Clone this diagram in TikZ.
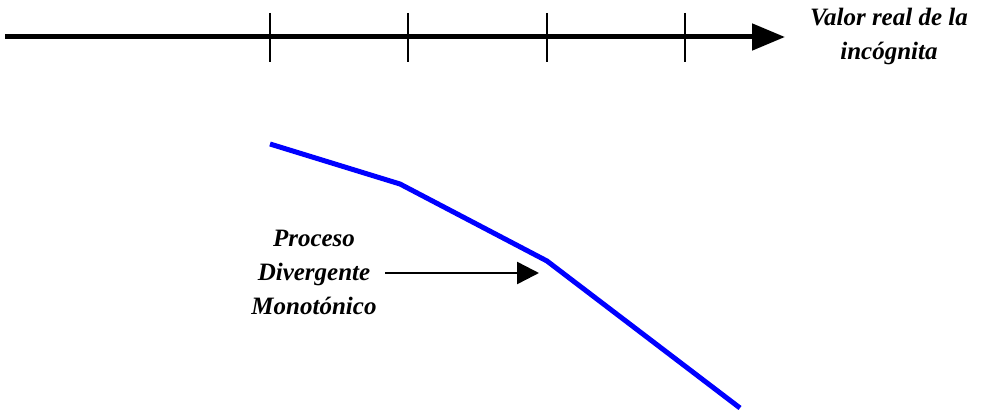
\documentclass[tikz,border=0pt]{standalone}
\usepackage{fontspec}
\setmainfont{Liberation Serif}
\usetikzlibrary{arrows.meta}
\begin{document}
\begin{tikzpicture}[x=1pt,y=-1pt,
  lbl/.style={font=\bfseries\itshape\fontsize{25}{34}\selectfont, align=center, inner sep=0pt},
  axisline/.style={line width=5pt, -{Triangle[length=33pt,width=26pt]}},
  pointer/.style={line width=2.5pt, -{Triangle[length=22pt,width=22pt]}},
  curve/.style={blue, line width=5pt, line join=round}]
\useasboundingbox (0,0) rectangle (981,412);
\coordinate (a0) at (5,37);
\coordinate (a1) at (785,37);
\draw[axisline] (a0) -- (a1);
\foreach \x/\w in {270/1.3, 408/2.6, 547/1.3, 685/1.3}{
  \coordinate (t\x a) at (\x,13);
  \coordinate (t\x b) at (\x,62);
  \draw[line width=\w pt] (t\x a) -- (t\x b);
}
\node[lbl] (val) at (889,36) {Valor real de la\\inc\'ognita};
\coordinate (c0) at (270,144);
\coordinate (c1) at (400,184);
\coordinate (c2) at (547,261);
\coordinate (c3) at (740,408);
\draw[curve] (c0) -- (c1) -- (c2) -- (c3);
\node[lbl] (proc) at (314,272) {Proceso\\Divergente\\Monot\'onico};
\coordinate (p0) at (385,273);
\coordinate (p1) at (539,273);
\draw[pointer] (p0) -- (p1);
\end{tikzpicture}
\end{document}
